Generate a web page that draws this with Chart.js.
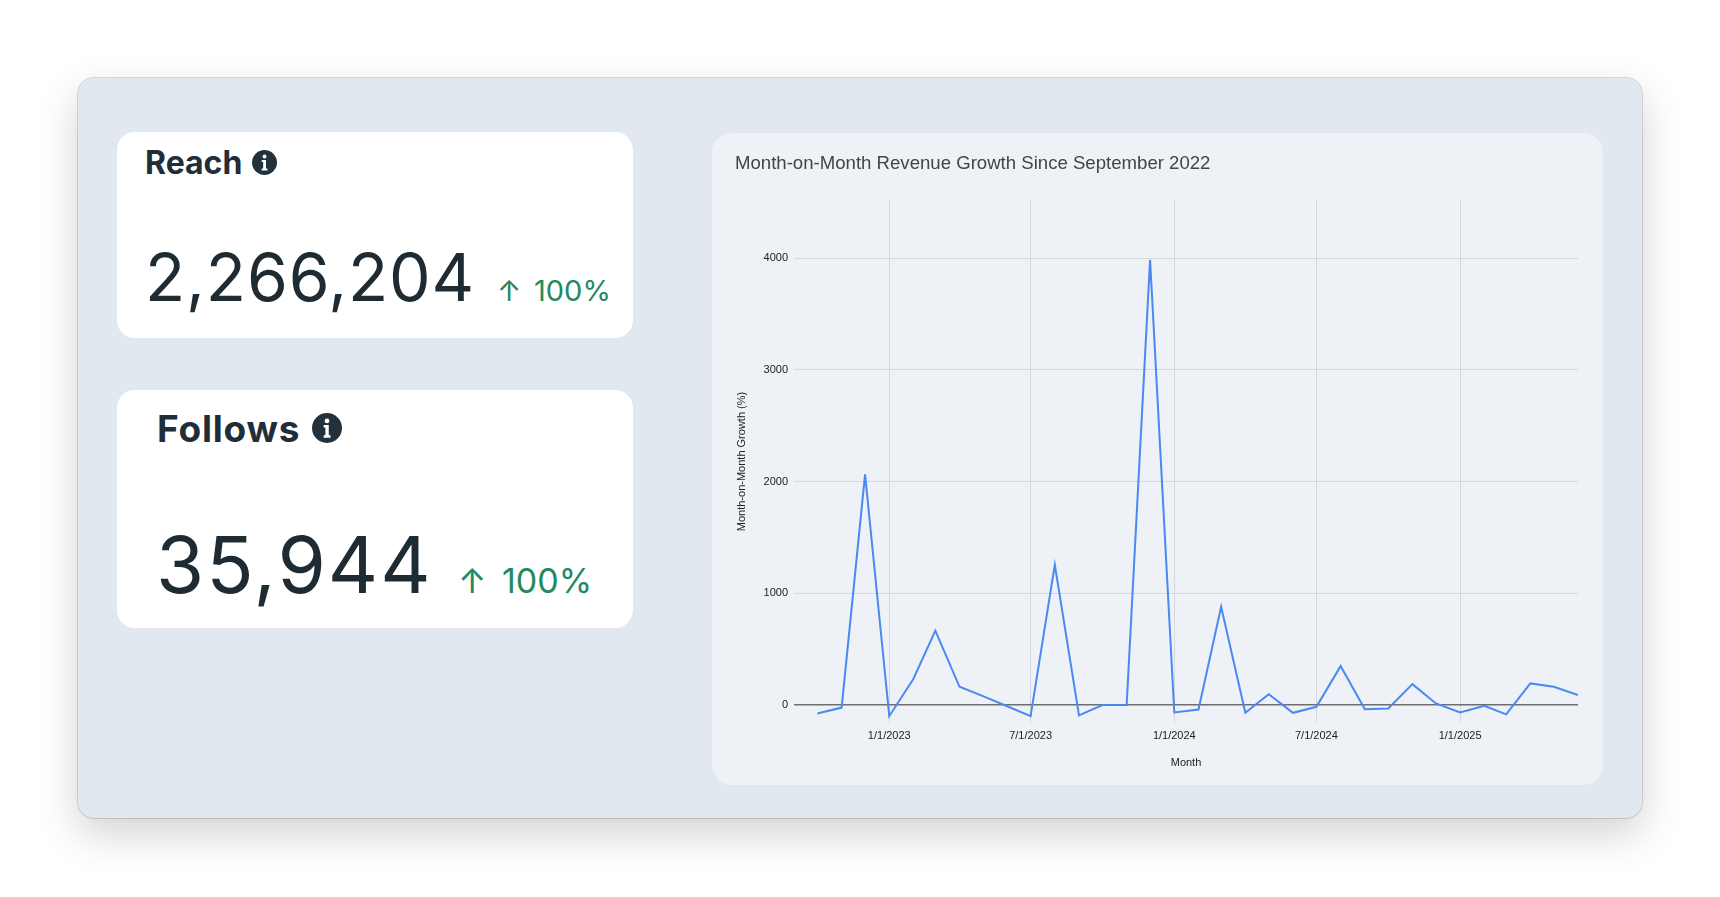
<!DOCTYPE html>
<html>
<head>
<meta charset="utf-8">
<script src="https://cdn.jsdelivr.net/npm/chart.js@4.4.1/dist/chart.umd.min.js"></script>
<style>
  html, body { margin: 0; padding: 0; background: #ffffff; }
  body { width: 1720px; height: 897px; position: relative; overflow: hidden; font-family: Inter, "Noto Sans", sans-serif; }
  .panel { position: absolute; left: 78px; top: 78px; width: 1564px; height: 740px; background: #e1e8ef; border-radius: 16px; box-shadow: 0 16px 42px rgba(0,0,0,0.18), 0 0 0 1px rgba(150,160,170,0.35); }
  .card { position: absolute; background: #ffffff; border-radius: 18px; }
  .t { position: absolute; white-space: nowrap; line-height: 1; }
  .head { font-weight: 700; color: #1f2e38; }
  .num { font-weight: 400; color: #1e2b33; }
  .pct { font-weight: 400; color: #23895f; }
  .chartcard { position: absolute; left: 712px; top: 133px; width: 891px; height: 652px; background: #eef2f6; border-radius: 20px; }
  .chartcard canvas { position: absolute; left: 0; top: 0; }
</style>
</head>
<body>
<div class="panel"></div>

<div class="card" style="left:117px; top:132px; width:516px; height:206px;">
  <div class="t head" id="reachLabel" style="left:28px; top:15px; font-size:32px;"></div>
  <svg style="position:absolute; left:135px; top:18px;" width="25" height="25" viewBox="0 0 24 24"><circle cx="12" cy="12" r="12" fill="#22313b"/><circle cx="12" cy="6.3" r="1.9" fill="#fff"/><path d="M9.3 9.6h4.1v8.2h1.4v1.9H9.3v-1.9h1.4v-6.3H9.3z" fill="#fff"/></svg>
  <div class="t num" id="reachValue" style="left:28px; top:112px; font-size:66px; letter-spacing:0.8px;"></div>
  <div class="t pct" id="reachArrow" style="left:380px; top:144px; font-size:29px;">↑</div>
  <div class="t pct" id="reachPct" style="left:417px; top:144px; font-size:29px;"></div>
</div>

<div class="card" style="left:117px; top:390px; width:516px; height:238px;">
  <div class="t head" id="followsLabel" style="left:40px; top:20px; font-size:37px; letter-spacing:0.8px;"></div>
  <svg style="position:absolute; left:195px; top:23px;" width="30" height="30" viewBox="0 0 24 24"><circle cx="12" cy="12" r="12" fill="#22313b"/><circle cx="12" cy="6.3" r="1.9" fill="#fff"/><path d="M9.3 9.6h4.1v8.2h1.4v1.9H9.3v-1.9h1.4v-6.3H9.3z" fill="#fff"/></svg>
  <div class="t num" id="followsValue" style="left:39px; top:136px; font-size:78px; letter-spacing:2px;"></div>
  <div class="t pct" id="followsArrow" style="left:341px; top:174px; font-size:34px;">↑</div>
  <div class="t pct" id="followsPct" style="left:385px; top:174px; font-size:34px;"></div>
</div>

<div class="chartcard"><canvas id="c" width="891" height="652"></canvas></div>

<script>
// ---------- data ----------
const kpiLabels = ["Reach", "Follows"];
const kpiValues = ["2,266,204", "35,944"];
const kpiChanges = ["100%", "100%"];

const chartTitle = "Month-on-Month Revenue Growth Since September 2022";
const xAxisTitle = "Month";
const yAxisTitle = "Month-on-Month Growth (%)";

const months = [
  "2022-10-01","2022-11-01","2022-12-01",
  "2023-01-01","2023-02-01","2023-03-01","2023-04-01","2023-05-01","2023-06-01",
  "2023-07-01","2023-08-01","2023-09-01","2023-10-01","2023-11-01","2023-12-01",
  "2024-01-01","2024-02-01","2024-03-01","2024-04-01","2024-05-01","2024-06-01",
  "2024-07-01","2024-08-01","2024-09-01","2024-10-01","2024-11-01","2024-12-01",
  "2025-01-01","2025-02-01","2025-03-01","2025-04-01","2025-05-01","2025-06-01"
];
const growth = [
  -75, -22, 2065,
  -99, 236, 666, 164, 80, -10,
  -98, 1255, -92, 0, 0, 3985,
  -65, -39, 880, -69, 98, -69,
  -15, 349, -36, -30, 188, 15,
  -65, -6, -83, 194, 164, 90
];

const xTickDates = ["2023-01-01","2023-07-01","2024-01-01","2024-07-01","2025-01-01"];
const xTickLabels = ["1/1/2023","7/1/2023","1/1/2024","7/1/2024","1/1/2025"];
const yTicks = [0, 1000, 2000, 3000, 4000];
const yTickLabels = ["0", "1000", "2000", "3000", "4000"];
const xRange = ["2022-09-01", "2025-06-01"];
const yRange = [-160, 4520];

// ---------- KPI text ----------
document.getElementById('reachLabel').textContent = kpiLabels[0];
document.getElementById('reachValue').textContent = kpiValues[0];
document.getElementById('reachPct').textContent = kpiChanges[0];
document.getElementById('followsLabel').textContent = kpiLabels[1];
document.getElementById('followsValue').textContent = kpiValues[1];
document.getElementById('followsPct').textContent = kpiChanges[1];

// ---------- chart ----------
function toDay(s) {
  const p = s.split('-').map(Number);
  return Date.UTC(p[0], p[1] - 1, p[2]) / 86400000;
}
const points = months.map((m, i) => ({ x: toDay(m), y: growth[i] }));
const xTickValues = xTickDates.map(toDay);

const axisFont = { family: "'Liberation Sans', Arial, sans-serif", size: 11 };

new Chart(document.getElementById('c'), {
  type: 'line',
  data: {
    datasets: [{
      data: points,
      borderColor: '#4a88f2',
      borderWidth: 2,
      pointRadius: 0,
      pointHoverRadius: 0,
      tension: 0,
      fill: false
    }]
  },
  options: {
    responsive: false,
    animation: false,
    devicePixelRatio: 1,
    layout: { padding: { left: 23, right: 25, top: 10, bottom: 10 } },
    plugins: {
      legend: { display: false },
      tooltip: { enabled: false },
      title: {
        display: true,
        text: chartTitle,
        align: 'start',
        color: '#444444',
        font: { family: "'Liberation Sans', Arial, sans-serif", size: 18.6, weight: 'normal' },
        padding: { top: 9.5, bottom: 25.2 }
      }
    },
    scales: {
      x: {
        type: 'linear',
        min: toDay(xRange[0]),
        max: toDay(xRange[1]),
        afterBuildTicks: (scale) => { scale.ticks = xTickValues.map(v => ({ value: v })); },
        afterFit: (scale) => { scale.height = 52; },
        ticks: {
          autoSkip: false,
          maxRotation: 0,
          padding: 6,
          color: '#222222',
          font: axisFont,
          callback: (v) => { const i = xTickValues.indexOf(v); return i >= 0 ? xTickLabels[i] : ''; }
        },
        grid: { color: '#d4d7db', lineWidth: 1, drawTicks: false },
        border: { display: false },
        title: { display: true, text: xAxisTitle, color: '#222222', font: axisFont, padding: { top: 0, bottom: 5 } }
      },
      y: {
        min: yRange[0],
        max: yRange[1],
        afterBuildTicks: (scale) => { scale.ticks = yTicks.map(v => ({ value: v })); },
        afterFit: (scale) => { scale.width = 59; },
        ticks: {
          padding: 6,
          color: '#222222',
          font: axisFont,
          callback: (v) => { const i = yTicks.indexOf(v); return i >= 0 ? yTickLabels[i] : ''; }
        },
        grid: {
          drawTicks: false,
          color: (ctx) => (ctx.tick && ctx.tick.value === 0) ? '#6e6e6e' : '#d4d7db',
          lineWidth: (ctx) => (ctx.tick && ctx.tick.value === 0) ? 1.5 : 1
        },
        border: { display: false },
        title: { display: true, text: yAxisTitle, color: '#222222', font: axisFont, padding: { top: 0, bottom: 0 } }
      }
    }
  }
});
</script>
</body>
</html>
